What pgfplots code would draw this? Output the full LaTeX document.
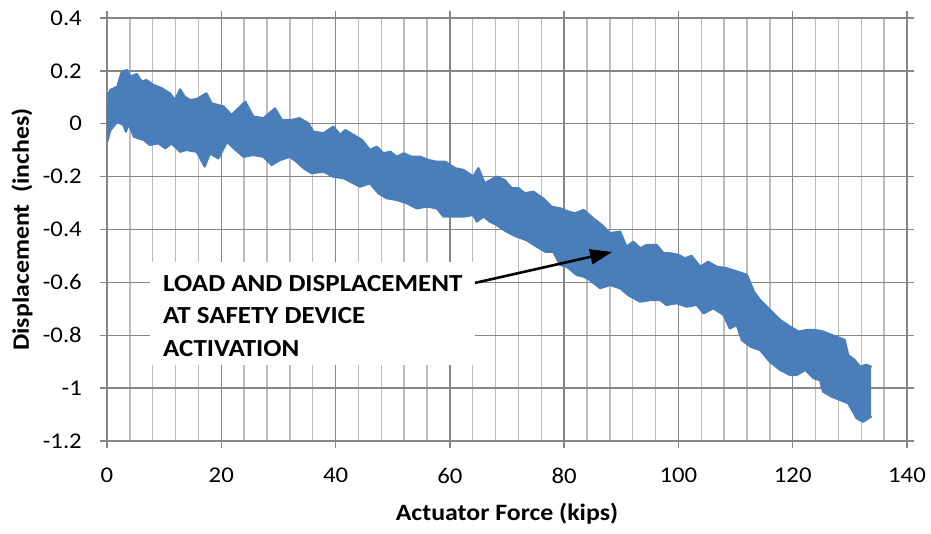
\documentclass[border=0pt]{standalone}
\usepackage{fontspec}
\setmainfont{Carlito}[FakeStretch=1.1]
\usepackage{pgfplots}
\pgfplotsset{compat=1.18}
\usepgfplotslibrary{fillbetween}
\usetikzlibrary{arrows.meta}
\definecolor{band}{HTML}{4A7EBB}
\definecolor{gmaj}{HTML}{868686}
\definecolor{gmin}{HTML}{BDBDBD}
\begin{document}
\begin{tikzpicture}
\begin{axis}[
  scale only axis, width=800pt, height=423pt,
  xmin=0, xmax=140, ymin=-1.2, ymax=0.4,
  xtick={0,20,40,60,80,100,120,140},
  xticklabels={0,20,40,60,80,100,120,140},
  ytick={-1.2,-1,-0.8,-0.6,-0.4,-0.2,0,0.2,0.4},
  yticklabels={-1.2,-1,-0.8,-0.6,-0.4,-0.2,0,0.2,0.4},
  minor x tick num=4,
  xmajorgrids=true, xminorgrids=true, ymajorgrids=true,
  major grid style={gmaj, line width=1.4pt},
  minor grid style={gmin, line width=1.5pt},
  axis line style={gmaj, line width=1.4pt},
  tick align=outside, major tick length=7pt, minor tick length=0pt,
  every tick/.style={gmaj, line width=1.4pt},
  tick label style={font=\fontsize{22.5}{27}\selectfont, inner sep=0pt},
  yticklabel style={anchor=east, xshift=-18pt},
  xticklabel style={anchor=north, yshift=-20pt},
  xlabel={Actuator Force (kips)},
  ylabel={Displacement\ \ (inches)},
  label style={font=\bfseries\fontsize{23.5}{28}\selectfont},
  xlabel style={at={(axis description cs:0.5,-0.1726)}, anchor=center},
  ylabel style={at={(axis description cs:-0.1063,0.5)}, anchor=center},
]
\addplot[name path=U, band, line width=2.2pt, line join=round, line cap=round] coordinates {
(0,0.102) (0.6,0.128) (1.8,0.140) (2.6,0.197) (3.5,0.203) (4.1,0.178) (5.2,0.188)
(6.1,0.159) (6.9,0.165) (8.1,0.147) (9.6,0.134) (11.0,0.115) (11.9,0.09) (12.8,0.130)
(13.6,0.102) (14.5,0.09) (15.7,0.093) (17.4,0.115) (18.3,0.077) (20.4,0.065)
(21.8,0.033) (22.7,0.052) (24.2,0.083) (25.6,0.027) (27.4,0.021) (29.4,0.058)
(30.6,0.014) (32.3,0.014) (33.7,0.021) (35.2,0.002) (36.1,-0.03) (37.9,-0.036)
(39.6,-0.011) (40.8,-0.042) (41.7,-0.024) (43.1,-0.042) (44.6,-0.061) (46.0,-0.099)
(47.2,-0.087) (48.4,-0.112) (49.6,-0.106) (50.7,-0.125) (51.9,-0.112) (53.3,-0.125)
(54.8,-0.125) (56.2,-0.137) (57.7,-0.144) (59.2,-0.144) (60.9,-0.168) (62.4,-0.175)
(64.1,-0.2) (65.0,-0.168) (66.1,-0.225) (68.2,-0.2) (69.6,-0.213) (70.8,-0.244)
(72.0,-0.244) (73.1,-0.263) (74.6,-0.257) (76.3,-0.282) (77.8,-0.314) (79.3,-0.32)
(80.4,-0.33) (81.9,-0.339) (83.4,-0.326) (85.1,-0.358) (86.6,-0.383) (88.0,-0.414)
(89.8,-0.408) (90.9,-0.465) (92.1,-0.446) (93.3,-0.471) (94.4,-0.459) (96.2,-0.459)
(97.4,-0.49) (98.5,-0.49) (100.0,-0.496) (101.1,-0.509) (102.3,-0.5) (103.8,-0.541)
(105.2,-0.522) (106.7,-0.541) (108.5,-0.547) (110.2,-0.559) (112.0,-0.572)
(113.2,-0.635) (114.3,-0.667) (116.0,-0.704) (117.8,-0.742) (119.5,-0.767)
(121.0,-0.786) (122.5,-0.78) (123.9,-0.78) (125.3,-0.786) (126.8,-0.799)
(128.3,-0.811) (129.1,-0.818) (129.7,-0.875) (130.8,-0.893) (131.8,-0.919)
(132.9,-0.912) (133.7,-0.919)
};
\addplot[name path=L, band, line width=2.2pt, line join=round, line cap=round] coordinates {
(0,-0.068) (0.6,-0.024) (1.8,0.008) (2.9,-0.005) (3.3,-0.03) (3.8,0.0) (4.7,-0.049)
(5.5,-0.055) (6.4,-0.061) (7.5,-0.08) (9.0,-0.074) (10.2,-0.093) (11.3,-0.074)
(12.8,-0.106) (13.9,-0.099) (15.7,-0.106) (17.1,-0.162) (18.0,-0.112) (19.5,-0.131)
(21.0,-0.068) (22.2,-0.093) (23.9,-0.125) (25.6,-0.118) (27.4,-0.125) (28.8,-0.156)
(30.3,-0.137) (32.0,-0.125) (33.2,-0.144) (34.4,-0.168) (35.8,-0.187) (37.9,-0.181)
(39.6,-0.2) (41.4,-0.206) (43.1,-0.225) (44.3,-0.238) (46.0,-0.225) (47.5,-0.263)
(49.0,-0.282) (50.7,-0.288) (52.5,-0.301) (54.2,-0.32) (56.0,-0.313) (57.7,-0.32)
(58.9,-0.351) (60.6,-0.351) (62.4,-0.351) (64.1,-0.345) (64.7,-0.370) (65.9,-0.351)
(67.0,-0.37) (68.2,-0.383) (69.9,-0.408) (71.7,-0.427) (73.4,-0.44) (75.2,-0.465)
(76.7,-0.484) (78.1,-0.484) (79.3,-0.534) (80.5,-0.541) (82.2,-0.572) (83.4,-0.578)
(84.5,-0.591) (86.3,-0.622) (88.0,-0.610) (89.8,-0.622) (91.2,-0.648) (93.3,-0.673)
(95.0,-0.667) (96.8,-0.667) (97.9,-0.685) (99.7,-0.679) (101.5,-0.692) (103.2,-0.685)
(104.4,-0.717) (106.1,-0.698) (107.9,-0.723) (109.0,-0.774) (110.2,-0.761)
(111.1,-0.818) (112.6,-0.843) (114.3,-0.856) (116.0,-0.9) (117.8,-0.931)
(119.5,-0.95) (120.7,-0.95) (122.2,-0.931) (123.7,-0.963) (124.8,-0.97)
(125.3,-1.013) (126.8,-1.032) (128.3,-1.045) (129.7,-1.057) (131.2,-1.114)
(132.3,-1.127) (133.7,-1.108)
};
\addplot[band] fill between[of=U and L];
\fill[white] (axis cs:7.5,-0.523) rectangle (axis cs:64.4,-0.912);
\node[anchor=base west, inner sep=0pt, font=\bfseries\fontsize{24.5}{30}\selectfont] at (axis cs:9.8,-0.634) {LOAD AND DISPLACEMENT};
\node[anchor=base west, inner sep=0pt, font=\bfseries\fontsize{24.5}{30}\selectfont] at (axis cs:9.8,-0.757) {AT SAFETY DEVICE};
\node[anchor=base west, inner sep=0pt, font=\bfseries\fontsize{24.5}{30}\selectfont] at (axis cs:9.8,-0.880) {ACTIVATION};
\draw[black, line width=2.6pt, -{Triangle[length=22pt,width=15pt]}] (axis cs:64.4,-0.602) -- (axis cs:88.4,-0.485);
\coordinate (BL) at (rel axis cs:0,0);
\coordinate (TR) at (rel axis cs:1,1);
\end{axis}
\pgfresetboundingbox
\path[use as bounding box] ([shift={(-107pt,-92pt)}]BL) rectangle ([shift={(24pt,18pt)}]TR);
\end{tikzpicture}
\end{document}
